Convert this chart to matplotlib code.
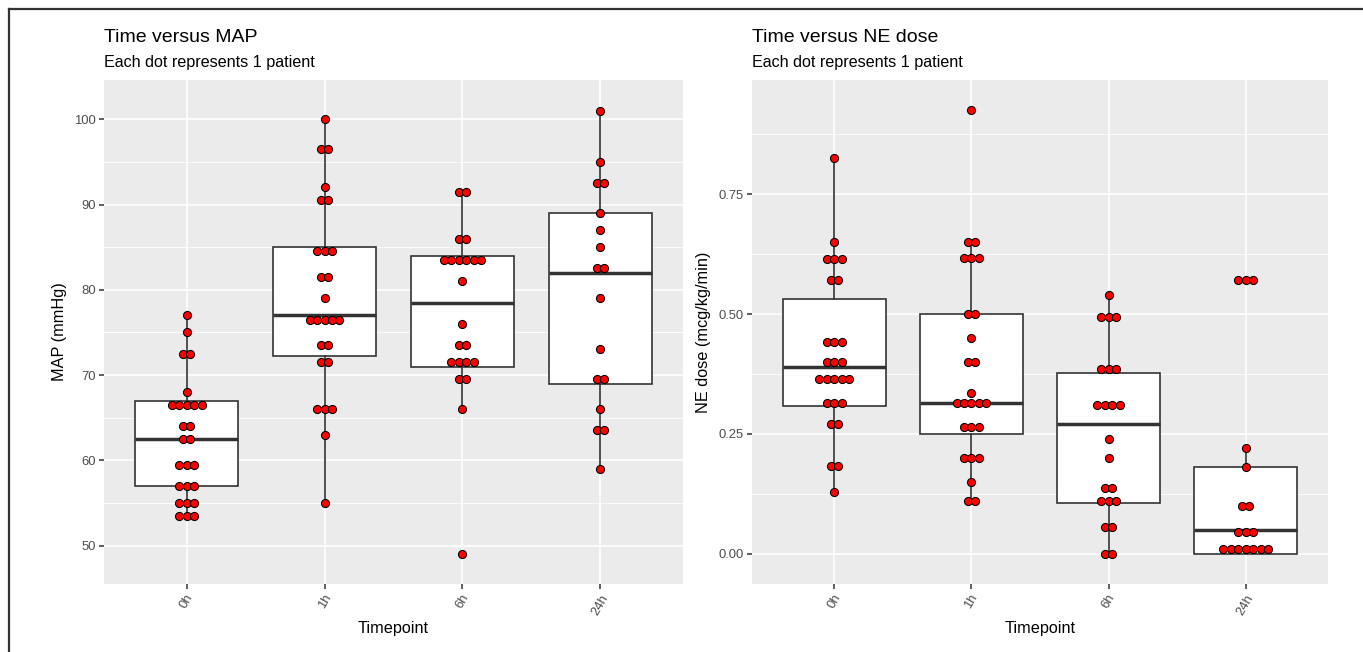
import matplotlib
matplotlib.use("Agg")
import matplotlib.pyplot as plt
from matplotlib.lines import Line2D
from matplotlib.ticker import MultipleLocator, FormatStrFormatter
from collections import Counter

plt.rcParams['font.family'] = ['Liberation Sans', 'DejaVu Sans']

timepoints = ['0h', '1h', '6h', '24h']

# MAP values per timepoint (one dot per patient)
map_0h = [77, 75, 72.5, 72.5, 68, 66.5, 66.5, 66.5, 66.5, 66.5, 64, 64, 62.5, 62.5,
          59.5, 59.5, 59.5, 57, 57, 57, 55, 55, 55, 53.5, 53.5, 53.5]
map_1h = [100, 96.5, 96.5, 92, 90.5, 90.5, 84.5, 84.5, 84.5, 81.5, 81.5, 79,
          76.5, 76.5, 76.5, 76.5, 76.5, 73.5, 73.5, 71.5, 71.5, 66, 66, 66, 63, 55]
map_6h = [91.5, 91.5, 86, 86, 83.5, 83.5, 83.5, 83.5, 83.5, 83.5, 81, 76,
          73.5, 73.5, 71.5, 71.5, 71.5, 71.5, 69.5, 69.5, 66, 49]
map_24h = [101, 95, 92.5, 92.5, 89, 87, 85, 82.5, 82.5, 79, 73, 69.5, 69.5,
           66, 63.5, 63.5, 59]

# box statistics
map_q1 = [57, 72.25, 71, 69]
map_med = [62.5, 77, 78.5, 82]
map_q3 = [67, 85, 84, 89]
map_lo = [53.5, 55, 66, 59]
map_hi = [77, 100, 91.5, 101]

# NE dose values per timepoint
ne_0h = [0.825, 0.65, 0.615, 0.615, 0.615, 0.57, 0.57, 0.442, 0.442, 0.442,
         0.399, 0.399, 0.399, 0.365, 0.365, 0.365, 0.365, 0.365, 0.314, 0.314,
         0.314, 0.27, 0.27, 0.184, 0.184, 0.129]
ne_1h = [0.925, 0.65, 0.65, 0.617, 0.617, 0.617, 0.5, 0.5, 0.45, 0.4, 0.4,
         0.335, 0.314, 0.314, 0.314, 0.314, 0.314, 0.264, 0.264, 0.264,
         0.2, 0.2, 0.2, 0.15, 0.11, 0.11]
ne_6h = [0.54, 0.494, 0.494, 0.494, 0.385, 0.385, 0.385, 0.31, 0.31, 0.31, 0.31,
         0.24, 0.2, 0.137, 0.137, 0.11, 0.11, 0.11, 0.055, 0.055, 0.0, 0.0]
ne_24h = [0.57, 0.57, 0.57, 0.22, 0.18, 0.1, 0.1, 0.045, 0.045, 0.045,
          0.01, 0.01, 0.01, 0.01, 0.01, 0.01, 0.01]

ne_q1 = [0.308, 0.25, 0.105, 0.0]
ne_med = [0.39, 0.315, 0.27, 0.05]
ne_q3 = [0.532, 0.5, 0.378, 0.18]
ne_lo = [0.13, 0.11, 0.0, 0.0]
ne_hi = [0.825, 0.65, 0.54, 0.22]

W, H = 1363, 652
fig = plt.figure(figsize=(W / 100, H / 100), dpi=100)
fig.patch.set_facecolor('white')

# frame around the figure (left and top edge visible)
fig.add_artist(Line2D([9 / W, 9 / W], [0, 1 - 9 / H], transform=fig.transFigure,
                      color='#333333', lw=1.6))
fig.add_artist(Line2D([9 / W, 1], [1 - 9 / H, 1 - 9 / H], transform=fig.transFigure,
                      color='#333333', lw=1.6))

grey_txt = '#4D4D4D'
dot_step = 0.054


def panel(ax, groups, q1, med, q3, lo, hi, ylim, major, minor, fmt, ylabel,
          title, subtitle):
    ax.set_facecolor('#EBEBEB')
    for s in ax.spines.values():
        s.set_visible(False)
    ax.yaxis.set_major_locator(MultipleLocator(major))
    ax.yaxis.set_minor_locator(MultipleLocator(minor))
    ax.grid(which='major', color='white', lw=1.2, zorder=0)
    ax.grid(which='minor', axis='y', color='white', lw=0.6, zorder=0)
    ax.set_axisbelow(True)

    stats = []
    for i in range(len(groups)):
        stats.append({'q1': q1[i], 'med': med[i], 'q3': q3[i],
                      'whislo': lo[i], 'whishi': hi[i], 'fliers': []})
    pos = list(range(1, len(groups) + 1))
    ax.bxp(stats, positions=pos, widths=0.75, showcaps=False, showfliers=False,
           patch_artist=True,
           boxprops=dict(facecolor='white', edgecolor='#333333', lw=1.2),
           whiskerprops=dict(color='#333333', lw=1.2),
           medianprops=dict(color='#333333', lw=2.5),
           zorder=2)

    for i, vals in enumerate(groups):
        counts = Counter(vals)
        for v, n in counts.items():
            xs = [pos[i] + (k - (n - 1) / 2) * dot_step for k in range(n)]
            ax.scatter(xs, [v] * n, s=34, c='#FF0000', edgecolors='black',
                       linewidths=0.75, zorder=3)

    ax.set_xlim(0.4, len(groups) + 0.6)
    ax.set_ylim(*ylim)
    ax.set_xticks(pos)
    ax.set_xticklabels(timepoints, rotation=60, ha='center', va='top')
    ax.yaxis.set_major_formatter(fmt)
    ax.tick_params(axis='both', which='major', length=3.5, width=1.1,
                   color='#333333', labelcolor=grey_txt, labelsize=9.4, pad=2.5)
    ax.tick_params(axis='y', which='minor', length=0)
    ax.set_xlabel('Timepoint', fontsize=11.7, color='black', labelpad=3)
    ax.set_ylabel(ylabel, fontsize=11.7, color='black', labelpad=5)
    ax.text(0, 1 + 37.7 / 504, title, transform=ax.transAxes, fontsize=14,
            ha='left', va='baseline', color='black')
    ax.text(0, 1 + 12.7 / 504, subtitle, transform=ax.transAxes, fontsize=11.6,
            ha='left', va='baseline', color='black')


b = 1 - 584 / H
h = (584 - 80) / H
ax1 = fig.add_axes([104 / W, b, (683 - 104) / W, h])
ax2 = fig.add_axes([752 / W, b, (1328 - 752) / W, h])

panel(ax1, [map_0h, map_1h, map_6h, map_24h], map_q1, map_med, map_q3, map_lo,
      map_hi, (45.5, 104.6), 10, 5, FormatStrFormatter('%d'),
      'MAP (mmHg)', 'Time versus MAP', 'Each dot represents 1 patient')
panel(ax2, [ne_0h, ne_1h, ne_6h, ne_24h], ne_q1, ne_med, ne_q3, ne_lo,
      ne_hi, (-0.063, 0.988), 0.25, 0.125, FormatStrFormatter('%.2f'),
      'NE dose (mcg/kg/min)', 'Time versus NE dose',
      'Each dot represents 1 patient')

fig.savefig('out.png', dpi=100)
